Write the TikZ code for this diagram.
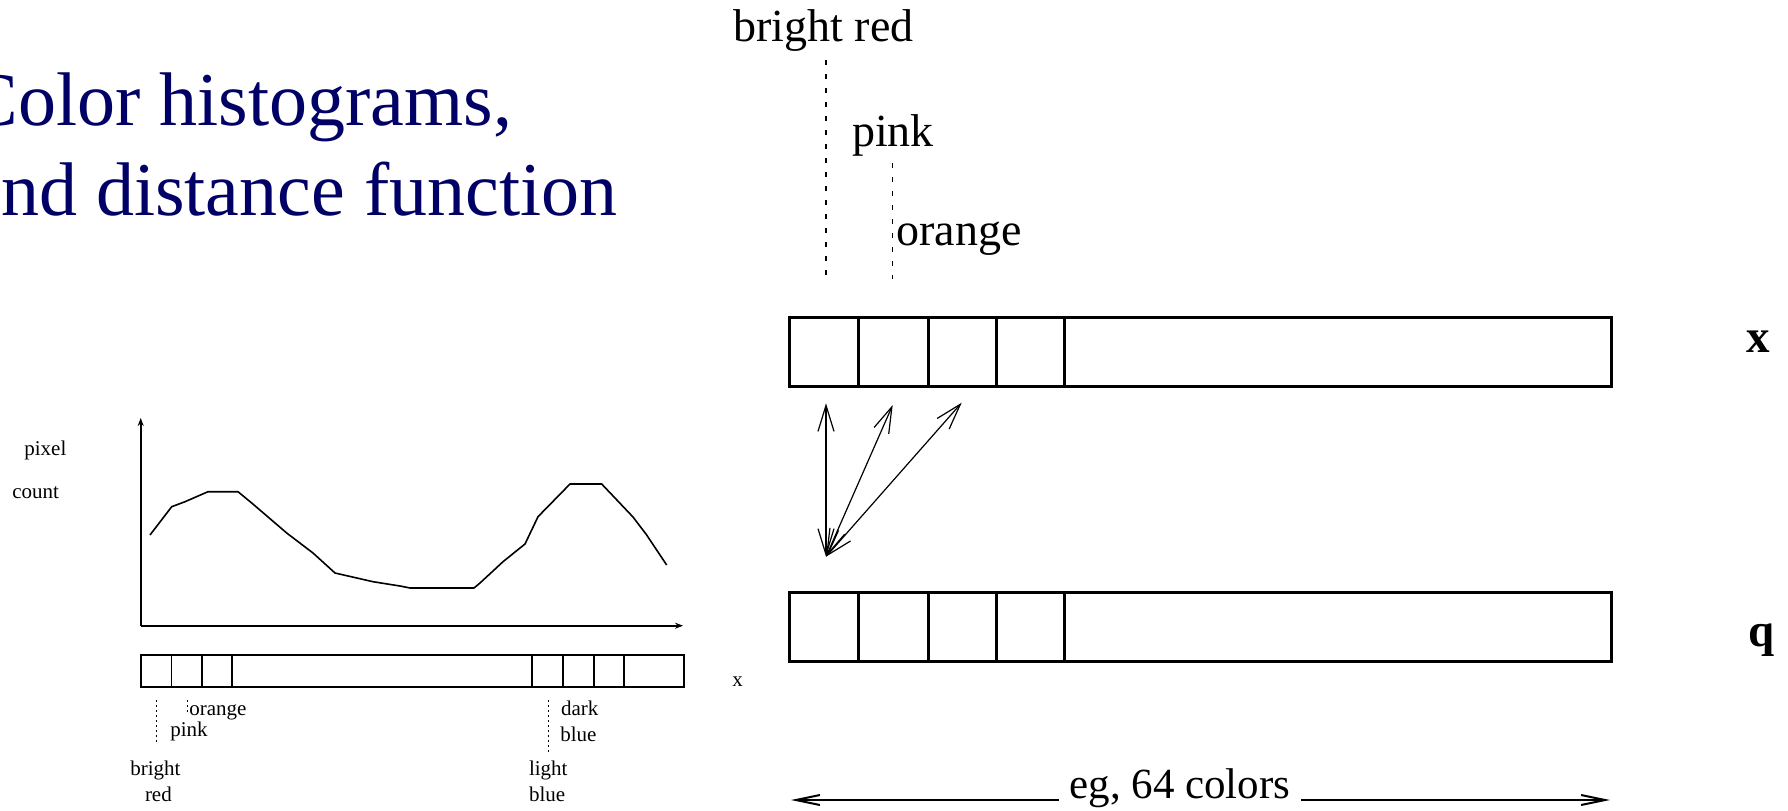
\documentclass[tikz,border=0pt]{standalone}
\usepackage{fontspec}
\setmainfont{Liberation Serif}
\usetikzlibrary{arrows.meta}
\definecolor{titleblue}{RGB}{0,0,102}
\begin{document}
\begin{tikzpicture}[x=0.5pt,y=-0.5pt,
  lbl/.style={anchor=base west, inner sep=0pt, font=\fontsize{23}{27}\selectfont},
  bold/.style={anchor=base west, inner sep=0pt, font=\fontsize{23.5}{27}\selectfont\bfseries},
  small/.style={anchor=base west, inner sep=0pt, font=\fontsize{10.5}{12}\selectfont},
  titletext/.style={anchor=base west, inner sep=0pt, text=titleblue, font=\fontsize{38}{44}\selectfont},
  boxline/.style={line width=1.5pt},
  thinbox/.style={line width=0.8pt},
  curve/.style={line width=0.8pt, line join=round},
  axis/.style={line width=0.8pt, -{Stealth[length=4pt,width=3pt]}},
  dist/.style={line width=0.6pt, {Straight Barb[length=13pt,width=8pt]}-{Straight Barb[length=13pt,width=8pt]}},
  span/.style={line width=1pt, -{Straight Barb[length=12pt,width=5pt]}},
  dotline/.style={line width=0.75pt, dash pattern=on 2.5pt off 4.5pt},
  smalldot/.style={line width=0.5pt, dash pattern=on 1pt off 1.5pt}
]
\useasboundingbox (0,0) rectangle (1788,810);

% title
\node[titletext] (t1) at (-33,125) {Color histograms,};
\node[titletext] (t2) at (-33,215) {and distance function};

% ---------- left: histogram ----------
\coordinate (O) at (140.7,625.7);
\coordinate (Ytop) at (140.7,418);
\coordinate (Xend) at (683,625.7);
\draw[axis] (O) -- (Ytop);
\draw[axis] (O) -- (Xend);
\draw[curve] (150,535) -- (171.7,506.7) -- (185,501.7) -- (208,491.7) -- (238,491.7)
  -- (251.7,503) -- (286.7,533) -- (313,553) -- (335,573) -- (373,581.7) -- (400,586)
  -- (410,588) -- (474,588) -- (480,583) -- (503,561.7) -- (525,544) -- (538,516.7)
  -- (570,484) -- (601.7,484) -- (633,517) -- (646.7,535) -- (666.7,565);
\node[small] (pixel) at (24,455) {pixel};
\node[small] (count) at (12,498) {count};

\draw[thinbox] (140.7,655) rectangle (684,687);
\foreach \xx in {171.4,201.8,232,532,563,594,624}
  \draw[thinbox] (\xx,655) -- (\xx,687);
\node[small] (xlab) at (732,686) {x};

\draw[smalldot] (156,700) -- (156,744);
\draw[smalldot] (187,700) -- (187,712);
\draw[smalldot] (548,700) -- (548,752);
\node[small] (lorange) at (189,715) {orange};
\node[small] (lpink) at (170,736.7) {pink};
\node[small] (lbright) at (130,775) {bright};
\node[small] (lred) at (144.6,801.7) {red};
\node[small] (ldark) at (560.7,715) {dark};
\node[small] (lblue1) at (560,741.7) {blue};
\node[small] (llight) at (528.6,775) {light};
\node[small] (lblue2) at (528.6,801.7) {blue};

% ---------- right: x and q ----------
\node[lbl] (brightred) at (733,41.7) {bright red};
\node[lbl] (pink) at (851.7,146.7) {pink};
\node[lbl] (orange) at (896,245) {orange};
\draw[dotline] (826,60) -- (826,283);
\draw[dotline] (892.7,163) -- (892.7,279);

\draw[boxline] (789,317) rectangle (1611,386.5);
\foreach \xx in {858.5,928,996.5,1064.5}
  \draw[boxline] (\xx,317) -- (\xx,386.5);
\node[bold] (xname) at (1746,352) {x};

\draw[boxline] (789,592) rectangle (1611,661.5);
\foreach \xx in {858.5,928,996.5,1064.5}
  \draw[boxline] (\xx,592) -- (\xx,661.5);
\node[bold] (qname) at (1748,646.7) {q};

% distance arrows
\coordinate (P) at (826,556.7);
\coordinate (T1) at (826,403.3);
\coordinate (T2) at (892.7,405);
\coordinate (T3) at (961.7,402.7);
\draw[dist] (P) -- (T1);
\draw[dist] (P) -- (T2);
\draw[dist] (P) -- (T3);

% bottom span
\coordinate (L) at (791,800);
\coordinate (R) at (1610,800);
\node[anchor=base, inner sep=0pt, font=\fontsize{21.5}{25}\selectfont] (eg) at (1180,798) {eg, 64 colors};
\draw[span] ([xshift=-10*0.5pt]eg.west |- L) -- (L);
\draw[span] ([xshift=10*0.5pt]eg.east |- R) -- (R);
\end{tikzpicture}
\end{document}
